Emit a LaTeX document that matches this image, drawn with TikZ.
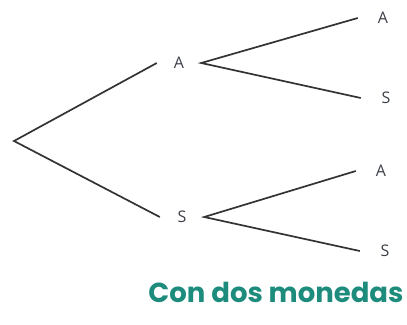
\documentclass[tikz,border=0pt]{standalone}
\usepackage{fontspec}
\setsansfont{Open Sans}
\newfontfamily\captionfont{Poppins}
\usepackage{tikz}
\usetikzlibrary{positioning}
\definecolor{branch}{HTML}{333333}
\definecolor{label}{HTML}{3C3F48}
\definecolor{teal}{HTML}{1E8C7C}

\begin{document}
\begin{tikzpicture}[x=1pt, y=-1pt,
      coin/.style={font=\sffamily\fontsize{16}{16}\selectfont, text=label,
        minimum width=44pt, inner sep=0pt},
      leaf/.style={coin, minimum width=50pt},
      branch/.style={line width=1.7pt, color=branch}]
    \useasboundingbox (0,0) rectangle (407,324);

    \coordinate (root) at (14,141);
    \node[coin] (a) at (179,63) {A};
    \node[coin] (s) at (182,217) {S};
    \node[leaf] (aa) at (383,18) {A};
    \node[leaf] (as) at (386,98) {S};
    \node[leaf] (sa) at (381,171) {A};
    \node[leaf] (ss) at (385,251) {S};

    \draw[branch] (a.west) -- (root) -- (s.west);
    \draw[branch] (aa.west) -- (a.east) -- (as.west);
    \draw[branch] (sa.west) -- (s.east) -- (ss.west);

    \node[font=\captionfont\bfseries\fontsize{27.5}{28}\selectfont, text=teal]
      (cap) at (276,292) {Con dos monedas};
  \end{tikzpicture}
\end{document}
